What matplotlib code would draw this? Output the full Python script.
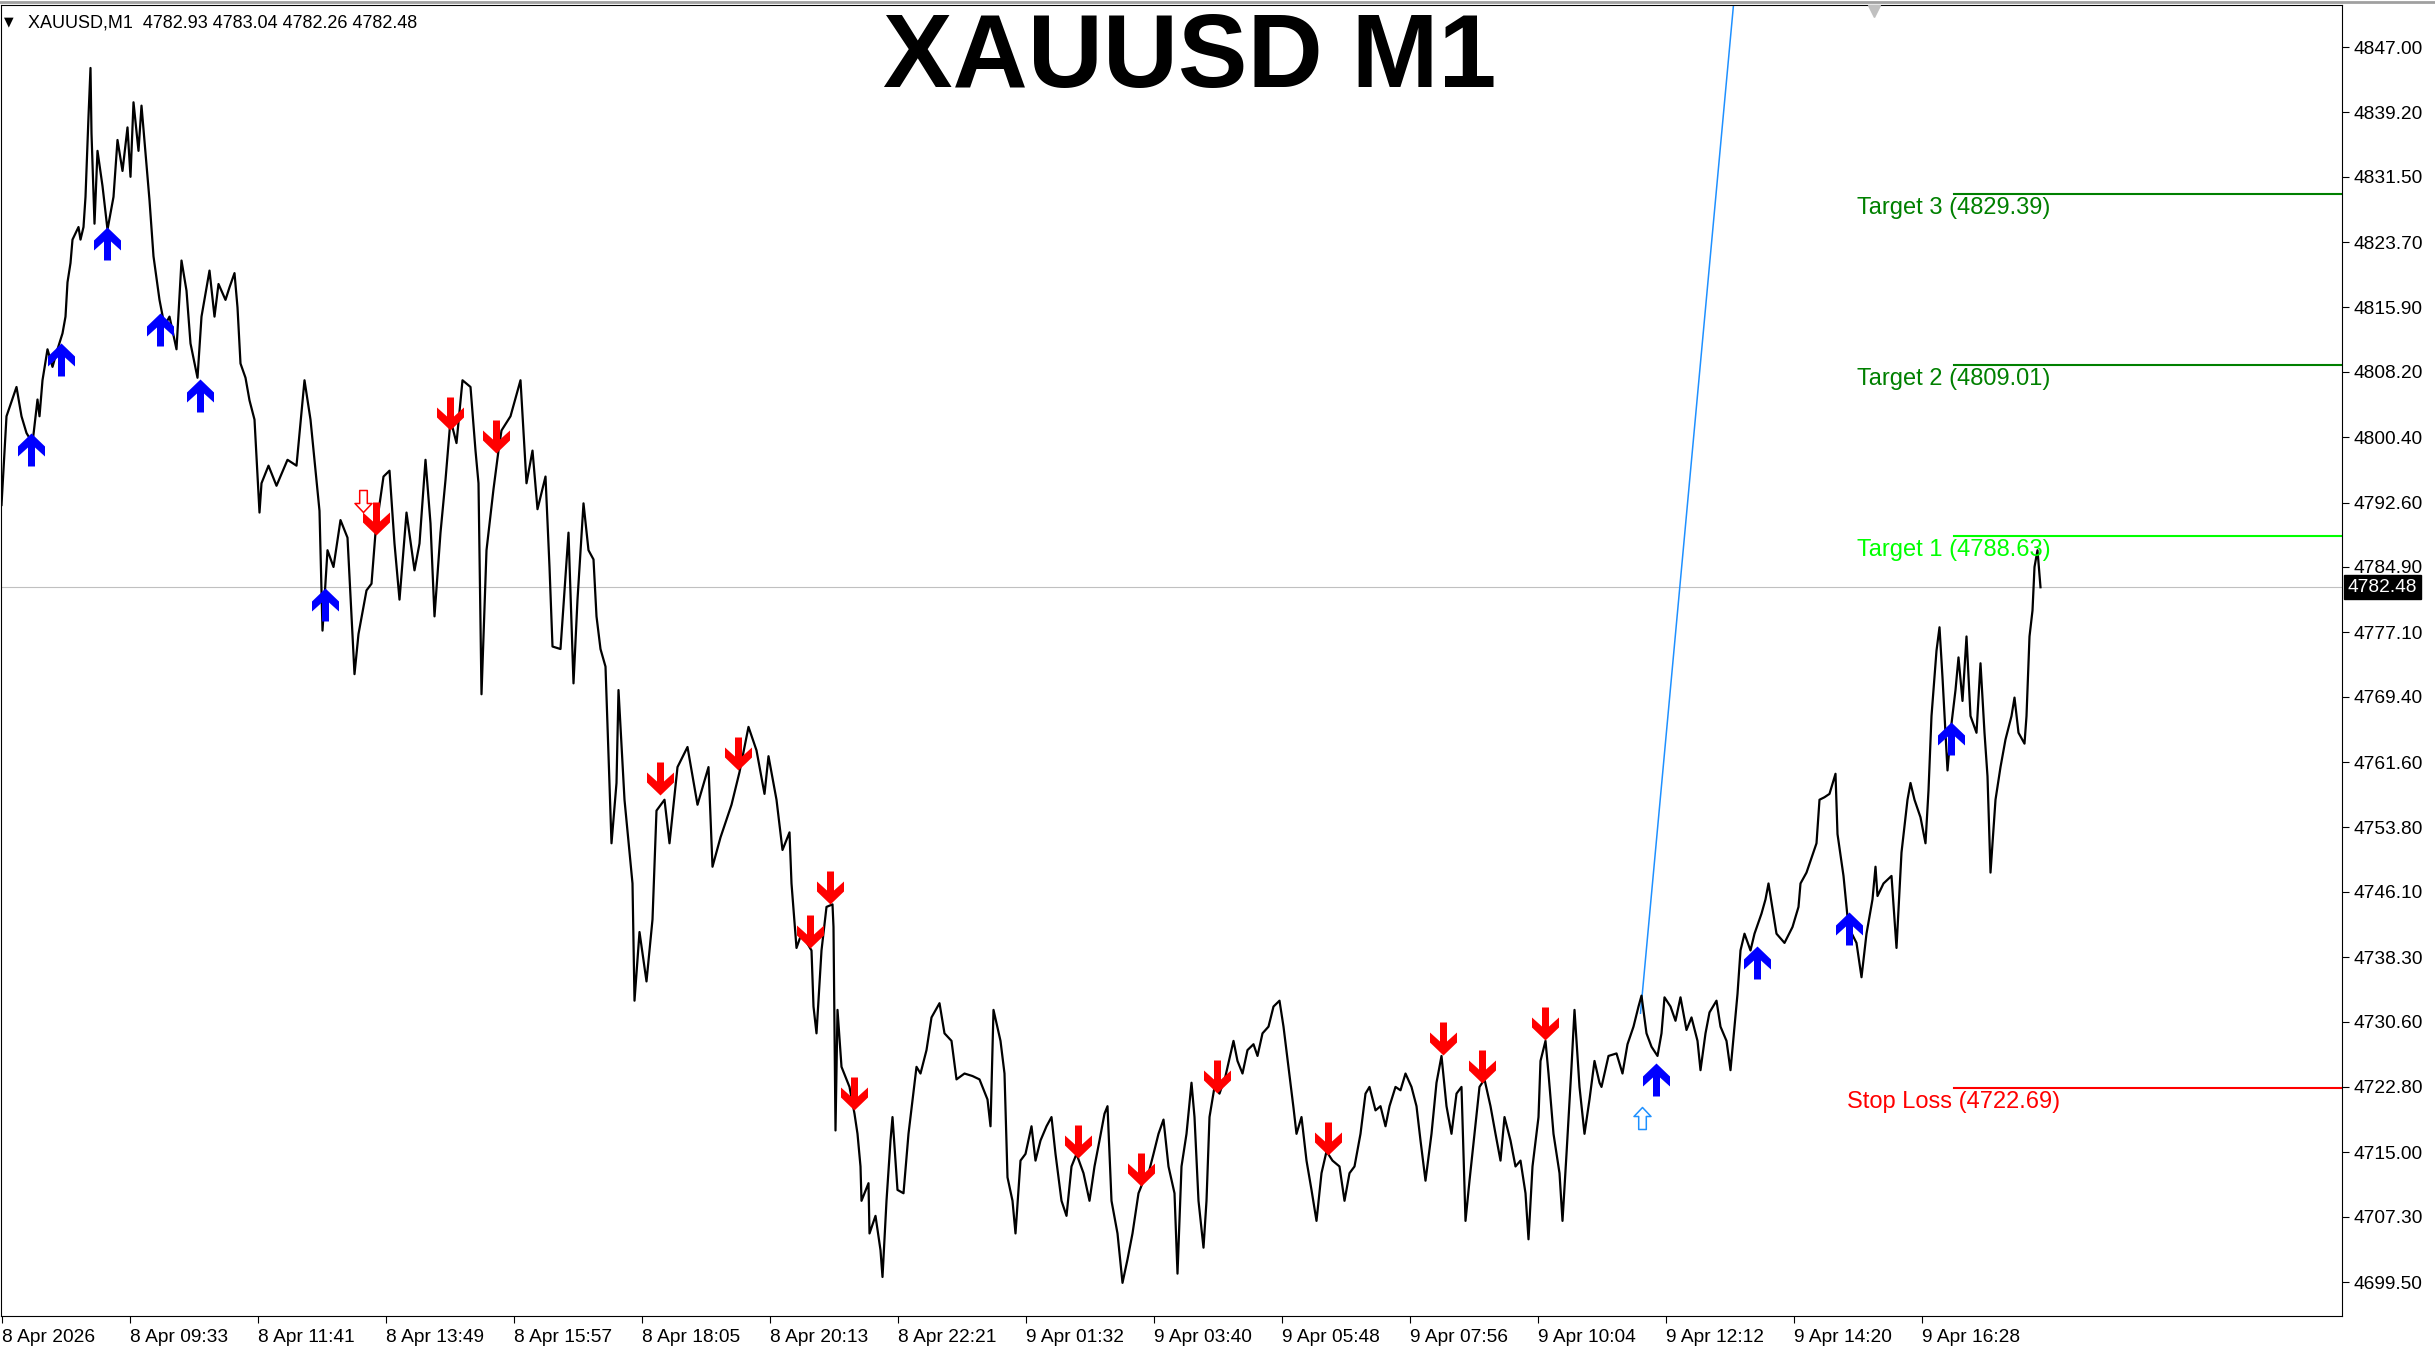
import matplotlib
matplotlib.use("Agg")
import matplotlib.pyplot as plt
from matplotlib.path import Path
from matplotlib.markers import MarkerStyle
from matplotlib.lines import Line2D
from matplotlib.transforms import blended_transform_factory

plt.rcParams['font.family'] = ['Liberation Sans', 'DejaVu Sans']

# chart header
symbol_tf = "XAUUSD,M1"
last_ohlc = [4782.93, 4783.04, 4782.26, 4782.48]
last_price = 4782.48

# price path: bar index (1 bar = 1 minute) and price
price_bars = [
    0, 5, 15, 20, 25, 31, 36, 38, 41, 46,
    51, 56, 61, 64, 66, 69, 71, 77, 79, 82,
    84, 87, 89, 90, 93, 96, 101, 106, 112, 116,
    121, 126, 129, 132, 137, 140, 144, 148, 152, 158,
    163, 168, 175, 180, 185, 189, 196, 200, 208, 213,
    217, 224, 228, 233, 236, 239, 244, 248, 253, 258,
    260, 267, 275, 286, 295, 303, 309, 314, 318, 321,
    326, 332, 339, 346, 353, 357, 365, 370, 374, 382,
    388, 393, 398, 405, 413, 418, 424, 429, 433, 439,
    444, 449, 455, 461, 469, 474, 477, 480, 485, 492,
    497, 500, 509, 519, 525, 531, 536, 544, 548, 551,
    559, 567, 572, 576, 582, 587, 592, 595, 599, 604,
    610, 615, 617, 623, 631, 633, 638, 645, 651, 655,
    663, 668, 676, 686, 696, 707, 711, 719, 730, 738,
    747, 755, 763, 767, 775, 781, 788, 790, 795, 800,
    810, 812, 815, 820, 825, 831, 832, 834, 836, 840,
    848, 853, 856, 859, 860, 867, 868, 874, 879, 881,
    885, 889, 891, 896, 902, 907, 909, 915, 919, 925,
    930, 938, 943, 950, 955, 963, 971, 978, 986, 989,
    992, 999, 1003, 1006, 1011, 1014, 1019, 1024, 1030, 1034,
    1039, 1045, 1050, 1054, 1060, 1065, 1070, 1075, 1082, 1088,
    1093, 1098, 1103, 1106, 1110, 1116, 1121, 1126, 1131, 1137,
    1141, 1146, 1152, 1157, 1162, 1167, 1173, 1176, 1180, 1185,
    1190, 1193, 1197, 1202, 1205, 1208, 1213, 1218, 1224, 1232,
    1236, 1241, 1246, 1252, 1256, 1261, 1267, 1272, 1278, 1282,
    1287, 1292, 1295, 1300, 1305, 1310, 1315, 1320, 1325, 1331,
    1338, 1343, 1348, 1353, 1359, 1364, 1368, 1374, 1379, 1384,
    1388, 1394, 1399, 1404, 1410, 1415, 1419, 1424, 1430, 1435,
    1440, 1445, 1450, 1455, 1460, 1464, 1468, 1473, 1478, 1483,
    1489, 1494, 1499, 1503, 1509, 1514, 1519, 1524, 1527, 1531,
    1537, 1539, 1544, 1547, 1552, 1558, 1561, 1565, 1570, 1573,
    1578, 1583, 1588, 1593, 1598, 1600, 1607, 1615, 1621, 1626,
    1632, 1637, 1640, 1645, 1650, 1656, 1660, 1663, 1669, 1674,
    1679, 1685, 1690, 1696, 1699, 1704, 1708, 1715, 1719, 1725,
    1729, 1733, 1736, 1739, 1743, 1749, 1753, 1760, 1764, 1767,
    1775, 1783, 1791, 1797, 1799, 1805, 1809, 1815, 1818, 1823,
    1828, 1834, 1836, 1842, 1847, 1855, 1860, 1865, 1871, 1874,
    1876, 1882, 1890, 1895, 1900, 1906, 1909, 1913, 1919, 1924,
    1927, 1930, 1935, 1938, 1941, 1946, 1950, 1954, 1957, 1961,
    1965, 1969, 1975, 1979, 1983, 1986, 1989, 1994, 1999, 2004,
    2010, 2013, 2017, 2023, 2025, 2028, 2031, 2033, 2036, 2039,
]
price_values = [
    4792.3, 4802.9, 4806.4, 4802.9, 4800.9, 4799.7, 4804.9, 4802.9, 4807.2, 4810.9,
    4808.8, 4810.9, 4812.8, 4814.8, 4818.9, 4821.2, 4824.0, 4825.5, 4824.0, 4825.5,
    4829.1, 4838.7, 4844.5, 4836.7, 4825.9, 4834.6, 4830.4, 4825.2, 4829.1, 4835.9,
    4832.2, 4837.4, 4831.5, 4840.4, 4834.6, 4840.0, 4834.3, 4828.7, 4822.0, 4816.8,
    4813.7, 4814.8, 4810.9, 4821.5, 4817.9, 4811.6, 4807.5, 4814.8, 4820.3, 4814.8,
    4818.7, 4816.8, 4818.3, 4820.0, 4815.9, 4809.2, 4807.5, 4804.8, 4802.5, 4791.4,
    4794.9, 4797.0, 4794.6, 4797.7, 4797.0, 4807.2, 4802.5, 4796.4, 4791.6, 4777.3,
    4786.9, 4784.9, 4790.5, 4788.4, 4772.1, 4776.9, 4782.1, 4782.9, 4789.0, 4795.7,
    4796.4, 4787.7, 4781.0, 4791.4, 4784.5, 4787.7, 4797.7, 4790.1, 4779.0, 4789.0,
    4795.3, 4802.5, 4799.7, 4807.2, 4806.4, 4798.8, 4794.9, 4769.7, 4786.9, 4794.2,
    4798.8, 4801.2, 4802.9, 4807.2, 4794.9, 4798.8, 4791.8, 4795.7, 4784.9, 4775.4,
    4775.1, 4789.0, 4771.0, 4781.0, 4792.5, 4786.9, 4785.8, 4779.0, 4775.1, 4773.0,
    4751.9, 4759.1, 4770.2, 4757.1, 4747.1, 4733.1, 4741.3, 4735.4, 4742.8, 4755.8,
    4757.1, 4751.9, 4761.0, 4763.4, 4756.5, 4761.0, 4749.1, 4752.6, 4756.5, 4760.4,
    4765.8, 4763.0, 4757.8, 4762.3, 4757.1, 4751.1, 4753.2, 4747.1, 4739.4, 4741.1,
    4739.1, 4732.4, 4729.2, 4739.1, 4744.3, 4744.6, 4741.9, 4717.6, 4732.0, 4725.2,
    4722.8, 4719.6, 4717.2, 4713.3, 4709.2, 4711.3, 4705.3, 4707.4, 4703.3, 4700.1,
    4709.2, 4716.4, 4719.2, 4710.5, 4710.1, 4717.2, 4719.2, 4725.2, 4724.4, 4727.2,
    4731.1, 4732.8, 4729.2, 4728.3, 4723.7, 4724.4, 4724.1, 4723.7, 4721.3, 4718.1,
    4732.0, 4728.3, 4724.4, 4712.0, 4709.2, 4705.3, 4714.0, 4714.8, 4718.1, 4714.0,
    4716.4, 4718.1, 4719.2, 4714.8, 4709.2, 4707.4, 4713.3, 4714.8, 4712.5, 4709.2,
    4713.3, 4716.4, 4719.6, 4720.5, 4709.2, 4705.3, 4699.4, 4702.2, 4705.3, 4710.1,
    4711.3, 4712.0, 4714.8, 4717.2, 4718.9, 4713.3, 4710.1, 4700.5, 4713.3, 4717.2,
    4723.3, 4719.2, 4709.2, 4703.6, 4709.2, 4719.2, 4722.8, 4722.0, 4724.1, 4728.3,
    4725.9, 4724.4, 4727.2, 4727.9, 4726.5, 4729.2, 4730.0, 4732.4, 4733.1, 4730.0,
    4725.2, 4720.3, 4717.2, 4719.2, 4714.0, 4710.5, 4706.8, 4712.5, 4715.1, 4714.0,
    4713.3, 4709.2, 4712.5, 4713.3, 4717.2, 4722.0, 4722.8, 4720.0, 4720.5, 4718.1,
    4720.5, 4722.8, 4722.4, 4724.4, 4722.8, 4720.5, 4716.4, 4711.6, 4717.2, 4723.3,
    4726.5, 4720.5, 4717.2, 4722.0, 4722.8, 4706.8, 4711.6, 4717.2, 4722.8, 4723.7,
    4720.5, 4717.2, 4714.0, 4719.2, 4716.4, 4713.3, 4714.0, 4710.1, 4704.6, 4713.3,
    4719.2, 4725.9, 4728.3, 4724.4, 4717.2, 4712.5, 4706.8, 4714.8, 4725.2, 4732.0,
    4722.8, 4717.2, 4721.3, 4725.9, 4723.3, 4722.8, 4726.5, 4726.8, 4724.4, 4727.9,
    4730.0, 4732.4, 4733.7, 4729.2, 4727.6, 4726.5, 4729.2, 4733.5, 4732.4, 4730.7,
    4733.5, 4729.6, 4731.1, 4728.3, 4724.8, 4729.2, 4731.7, 4733.1, 4730.0, 4728.3,
    4724.8, 4730.0, 4733.9, 4739.1, 4741.1, 4739.1, 4741.1, 4743.5, 4745.2, 4747.1,
    4741.1, 4740.0, 4741.9, 4744.3, 4747.1, 4748.4, 4749.8, 4751.9, 4757.1, 4757.4,
    4757.8, 4760.2, 4753.0, 4748.0, 4741.9, 4740.0, 4735.9, 4741.1, 4745.2, 4749.1,
    4745.6, 4747.1, 4748.0, 4739.4, 4750.8, 4757.1, 4759.1, 4757.1, 4755.0, 4751.9,
    4758.2, 4767.1, 4774.9, 4777.7, 4771.7, 4760.6, 4766.2, 4770.2, 4774.1, 4768.9,
    4776.6, 4767.1, 4765.1, 4773.4, 4765.1, 4759.9, 4748.4, 4757.1, 4761.0, 4764.3,
    4767.1, 4769.3, 4765.1, 4763.8, 4767.1, 4776.6, 4779.7, 4784.9, 4786.9, 4782.48,
]

# signal arrows (bar, price at arrow tip)
buy_bars = [29, 59, 105, 158, 198, 323, 1654, 1755, 1847, 1949]
buy_prices = [4800.9, 4811.7, 4825.5, 4815.2, 4807.4, 4782.4, 4725.6, 4739.6, 4743.7, 4766.4]
sell_bars = [374, 448, 494, 658, 736, 808, 828, 852, 1076, 1139, 1215, 1326, 1441, 1480, 1543]
sell_prices = [4788.7, 4801.3, 4798.5, 4757.7, 4760.6, 4739.4, 4744.7, 4720.0, 4714.3,
               4711.0, 4722.1, 4714.7, 4726.6, 4723.3, 4728.4]
pending_sell = (361, 4791.5)
pending_buy = (1640, 4720.4)

# trend line
trend_bars = [1639, 1740]
trend_prices = [4731.6, 4862.4]

# target / stop levels
level_names = ["Target 3", "Target 2", "Target 1", "Stop Loss"]
level_values = [4829.39, 4809.01, 4788.63, 4722.69]
level_colors = ["#008000", "#008000", "#00FF00", "#FF0000"]
level_start = 1952.5

# axis labels
time_labels = ["8 Apr 2026", "8 Apr 09:33", "8 Apr 11:41", "8 Apr 13:49", "8 Apr 15:57",
               "8 Apr 18:05", "8 Apr 20:13", "8 Apr 22:21", "9 Apr 01:32", "9 Apr 03:40",
               "9 Apr 05:48", "9 Apr 07:56", "9 Apr 10:04", "9 Apr 12:12", "9 Apr 14:20",
               "9 Apr 16:28"]
time_step = 128
price_ticks = [4847.00, 4839.20, 4831.50, 4823.70, 4815.90, 4808.20, 4800.40, 4792.60,
               4784.90, 4777.10, 4769.40, 4761.60, 4753.80, 4746.10, 4738.30, 4730.60,
               4722.80, 4715.00, 4707.30, 4699.50]

assert len(price_bars) == len(price_values)

W, H = 2435, 1349
fig = plt.figure(figsize=(W / 100, H / 100), dpi=100)
fig.patch.set_facecolor("white")
ax = fig.add_axes([1 / W, 33 / H, 2341 / W, 1311 / H])
ax.set_xlim(-0.5, 2340.5)
ax.set_ylim(4695.44, 4852.02)


def arrow_marker(up, hollow=False):
    # tip at the origin, body below it (flipped for down arrows)
    if hollow:
        v = [(0, 0), (8.5, -9), (3.8, -9), (3.8, -22), (-3.8, -22), (-3.8, -9),
             (-8.5, -9), (0, 0)]
    else:
        v = [(0, 0), (13.5, -13), (13.5, -23), (3.5, -14), (3.5, -33), (-3.5, -33),
             (-3.5, -14), (-13.5, -23), (-13.5, -13), (0, 0)]
    if not up:
        v = [(x, -y) for x, y in v]
    return MarkerStyle(Path(v, closed=True))


px = 72 / 100  # points per pixel

# current price line
ax.axhline(last_price, color="#C0C0C0", lw=0.8, zorder=1)

# price
ax.plot(price_bars, price_values, color="black", lw=1.6, zorder=3)

# trend line
ax.plot(trend_bars, trend_prices, color="#1E90FF", lw=1.1, zorder=2)

# levels
for name, val, col in zip(level_names, level_values, level_colors):
    ax.plot([level_start, 2340.5], [val, val], color=col, lw=1.5, zorder=2)
    ax.annotate(f"{name} ({val:.2f})", (level_start, val), xytext=(0, -14),
                textcoords="offset pixels", ha="center", va="center",
                color=col, fontsize=17)

# arrows
ax.plot(buy_bars, buy_prices, ls="none", marker=arrow_marker(True), ms=66 * px,
        color="#0000FF", mew=0, zorder=5)
ax.plot(sell_bars, sell_prices, ls="none", marker=arrow_marker(False), ms=66 * px,
        color="#FF0000", mew=0, zorder=5)
ax.plot([pending_sell[0]], [pending_sell[1]], ls="none", marker=arrow_marker(False, True),
        ms=44 * px, mfc="white", mec="#FF0000", mew=1.1, zorder=5)
ax.plot([pending_buy[0]], [pending_buy[1]], ls="none", marker=arrow_marker(True, True),
        ms=44 * px, mfc="white", mec="#1E90FF", mew=1.1, zorder=5)

# axes styling
for sp in ax.spines.values():
    sp.set_color("black")
    sp.set_linewidth(0.8)
ax.yaxis.tick_right()
ax.set_yticks(price_ticks)
ax.set_yticklabels([f"{p:.2f}" for p in price_ticks])
ax.tick_params(axis="y", direction="out", length=5, width=0.8, pad=3, labelsize=13.8)
ax.set_xticks([i * time_step for i in range(len(time_labels))])
ax.set_xticklabels(time_labels)
for lbl in ax.get_xticklabels():
    lbl.set_horizontalalignment("left")
ax.tick_params(axis="x", direction="out", length=5, width=0.8, pad=4, labelsize=13.8)

# last price box on the price scale
trans = blended_transform_factory(ax.transAxes, ax.transData)
ax.text(1.0024, last_price, f"{last_price:.2f}", transform=trans, color="white",
        fontsize=13.8, ha="left", va="center", zorder=6,
        bbox=dict(boxstyle="square,pad=0.18", fc="black", ec="black"))

# chart shift marker
trans2 = blended_transform_factory(ax.transData, ax.transAxes)
ax.plot([1872], [0.9955], marker="v", ms=9, color="#C0C0C0", transform=trans2,
        clip_on=False, zorder=6)

# header texts
fig.add_artist(Line2D([0, 1], [1 - 1.5 / H, 1 - 1.5 / H], transform=fig.transFigure,
                      color="#A0A0A0", lw=2))
fig.text(4 / W, 1 - 25 / H, "\u25bc", fontsize=9, family="DejaVu Sans", va="baseline")
fig.text(28 / W, 1 - 27 / H,
         symbol_tf + "  " + " ".join(f"{v:.2f}" for v in last_ohlc),
         fontsize=13, va="baseline")
fig.text(1189.5 / W, 1 - 87 / H, "XAUUSD M1", ha="center", va="baseline",
         fontsize=75, fontweight="bold")

fig.savefig("out.png", dpi=100, facecolor="white")
